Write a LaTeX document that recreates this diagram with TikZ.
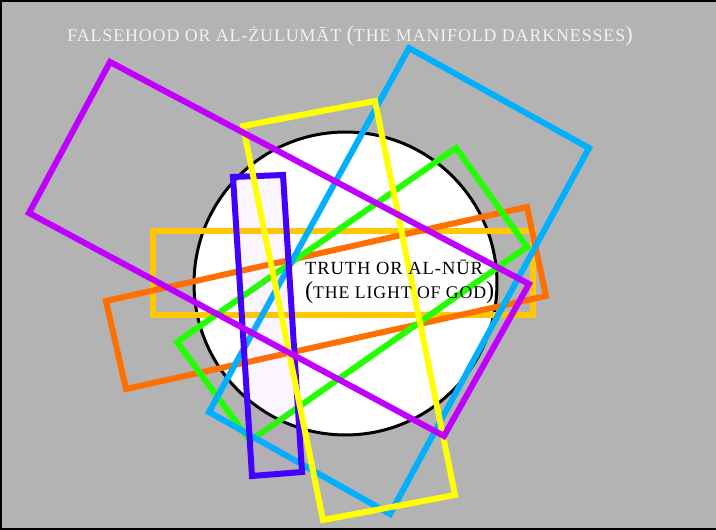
\documentclass[tikz,border=0pt]{standalone}
\usepackage{fontspec}
\usepackage{graphicx}
\newfontfamily\capsfont[LetterSpace=5]{Liberation Serif}
\newcommand{\bigparen}[1]{{\fontsize{15.5}{18}\selectfont #1}}
\definecolor{bg}{RGB}{179,179,179}
\definecolor{cpurple}{RGB}{191,0,255}
\definecolor{ccyan}{RGB}{0,176,255}
\definecolor{cyellow}{RGB}{255,255,0}
\definecolor{cgreen}{RGB}{34,255,0}
\definecolor{corange}{RGB}{255,112,0}
\definecolor{cgold}{RGB}{255,200,0}
\definecolor{cindigo}{RGB}{68,0,255}
\definecolor{ctint}{RGB}{200,100,255}
\definecolor{ctitle}{RGB}{242,242,242}
\begin{document}
\begin{tikzpicture}[x=0.75pt,y=-0.75pt,
  rect/.style={line width=4.5pt, line join=miter},
  label/.style={inner sep=0pt, outer sep=0pt}]
\useasboundingbox (0,0) rectangle (716,530);
\fill[bg] (0,0) rectangle (716,530);
\draw[line width=1.5pt] (716,1) -- (1,1) -- (1,529) -- (716,529);
% circle of light
\coordinate (c) at (345.5,283.5);
\draw[fill=white, line width=2.25pt] (c) circle (113.6pt);
% rectangles
\draw[rect, cgold] (153,231) -- (533,231) -- (533,315) -- (153,315) -- cycle;
\draw[rect, corange] (106,301) -- (527,207) -- (546,296) -- (126,389) -- cycle;
\draw[rect, cgreen] (456,148) -- (527,247) -- (250,441) -- (177,342) -- cycle;
\draw[rect, ccyan] (409,48) -- (589,148) -- (390,514) -- (209,412) -- cycle;
\draw[rect, cindigo, fill=ctint, fill opacity=0.06] (233,177) -- (283,175) -- (302,472) -- (252,476) -- cycle;
\draw[rect, cyellow] (243,126) -- (375,101) -- (455,495) -- (323,520) -- cycle;
\draw[rect, cpurple] (110,62) -- (529,284) -- (444,436) -- (29,213) -- cycle;
% texts
\node[label, anchor=base, text=ctitle] (title) at (350,42)
  {\resizebox{424pt}{!}{\capsfont\fontsize{12.5}{15}\selectfont FALSEHOOD OR AL-ŻULUMĀT \bigparen{(}THE MANIFOLD DARKNESSES\bigparen{)}}};
\node[label, anchor=base west] (truth1) at (305,275)
  {\resizebox{133.5pt}{!}{\capsfont\fontsize{11.3}{14}\selectfont TRUTH OR AL-NŪR}};
\node[label, anchor=base west] (truth2) at (305,299)
  {\resizebox{142pt}{!}{\capsfont\fontsize{11.3}{14}\selectfont \bigparen{(}THE LIGHT OF GOD\bigparen{)}}};
\end{tikzpicture}
\end{document}
